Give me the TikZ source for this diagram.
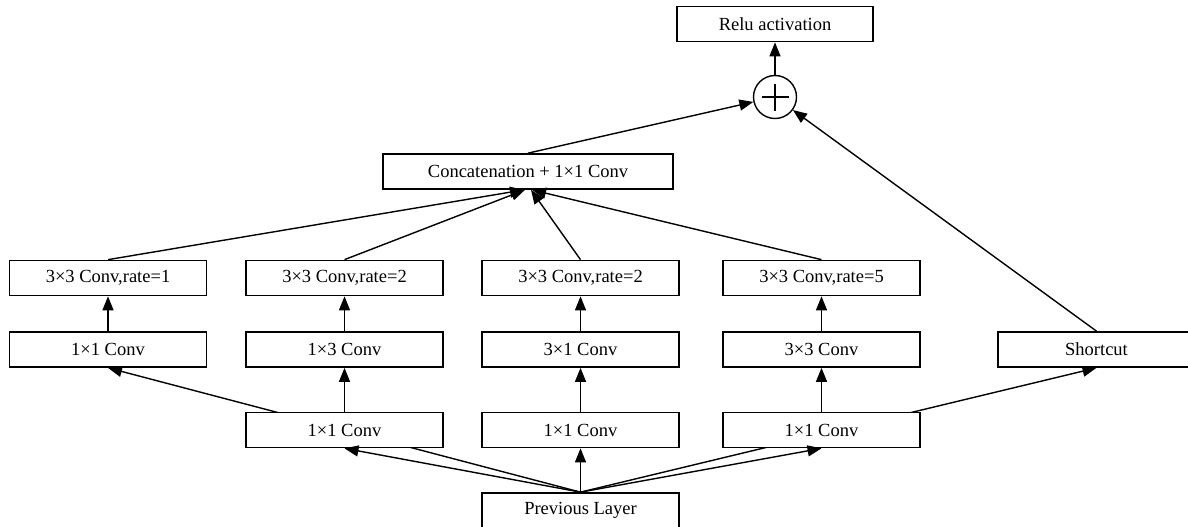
\documentclass[tikz,border=0pt]{standalone}
\usepackage{fontspec}
\setmainfont{Liberation Serif}
\usetikzlibrary{arrows.meta,backgrounds}
\tikzset{
  blk/.style={draw, line width=1.7pt, fill=white, minimum width=197pt, minimum height=35pt, inner sep=0pt, font=\fontsize{18.5}{20}\selectfont},
  conn/.style={line width=1.4pt, -{Triangle[length=14pt,width=11pt]}},
  plainline/.style={line width=1.4pt}
}
\begin{document}
\begin{tikzpicture}[x=1pt,y=-1pt]
\useasboundingbox (0,0) rectangle (1188,527);
\clip (0,0) rectangle (1188,527);
% top
\node[blk, minimum width=196pt] (relu) at (775,24) {Relu activation};
\node[circle, draw, line width=1.4pt, fill=white, minimum size=43pt, inner sep=0pt] (sum) at (775,97) {};
\draw[plainline] ([xshift=-13.5pt]sum.center) -- ([xshift=13.5pt]sum.center);
\draw[plainline] ([yshift=-13.5pt]sum.center) -- ([yshift=13.5pt]sum.center);
\node[blk, minimum width=290pt] (concat) at (528,171.5) {Concatenation + 1×1 Conv};
% row 1
\node[blk] (r1a) at (108,278) {3×3 Conv,rate=1};
\node[blk] (r1b) at (344.5,278) {3×3 Conv,rate=2};
\node[blk] (r1c) at (580.5,278) {3×3 Conv,rate=2};
\node[blk] (r1d) at (821.5,278) {3×3 Conv,rate=5};
% row 2
\node[blk] (r2a) at (108,349.5) {1×1 Conv};
\node[blk] (r2b) at (344.5,349.5) {1×3 Conv};
\node[blk] (r2c) at (580.5,349.5) {3×1 Conv};
\node[blk] (r2d) at (821.5,349.5) {3×3 Conv};
\node[blk] (short) at (1096.5,349.5) {Shortcut};
% row 3
\node[blk] (r3b) at (344.5,430) {1×1 Conv};
\node[blk] (r3c) at (580.5,430) {1×1 Conv};
\node[blk] (r3d) at (821.5,430) {1×1 Conv};
% previous
\node[blk] (prev) at (580.5,510.5) {Previous Layer};
% connectors behind boxes
\begin{pgfonlayer}{background}
\draw[conn] (prev.north) -- (r2a.south);
\draw[conn] (prev.north) -- (short.south);
\end{pgfonlayer}
\draw[conn] (prev.north) -- (r3b.south);
\draw[conn] (prev.north) -- (r3c.south);
\draw[conn] (prev.north) -- (r3d.south);
\draw[conn] (r3b.north) -- (r2b.south);
\draw[conn] (r3c.north) -- (r2c.south);
\draw[conn] (r3d.north) -- (r2d.south);
\draw[conn] (r2a.north) -- (r1a.south);
\draw[conn] (r2b.north) -- (r1b.south);
\draw[conn] (r2c.north) -- (r1c.south);
\draw[conn] (r2d.north) -- (r1d.south);
\draw[conn] (r1a.north) -- ([xshift=-4pt]concat.south);
\draw[conn] (r1b.north) -- ([xshift=-3pt]concat.south);
\draw[conn] (r1c.north) -- ([xshift=3pt]concat.south);
\draw[conn] (r1d.north) -- ([xshift=4pt]concat.south);
\draw[conn] (concat.north) -- (sum);
\draw[conn] (short.north) -- (sum);
\draw[conn] (sum.north) -- (relu.south);
\end{tikzpicture}
\end{document}
